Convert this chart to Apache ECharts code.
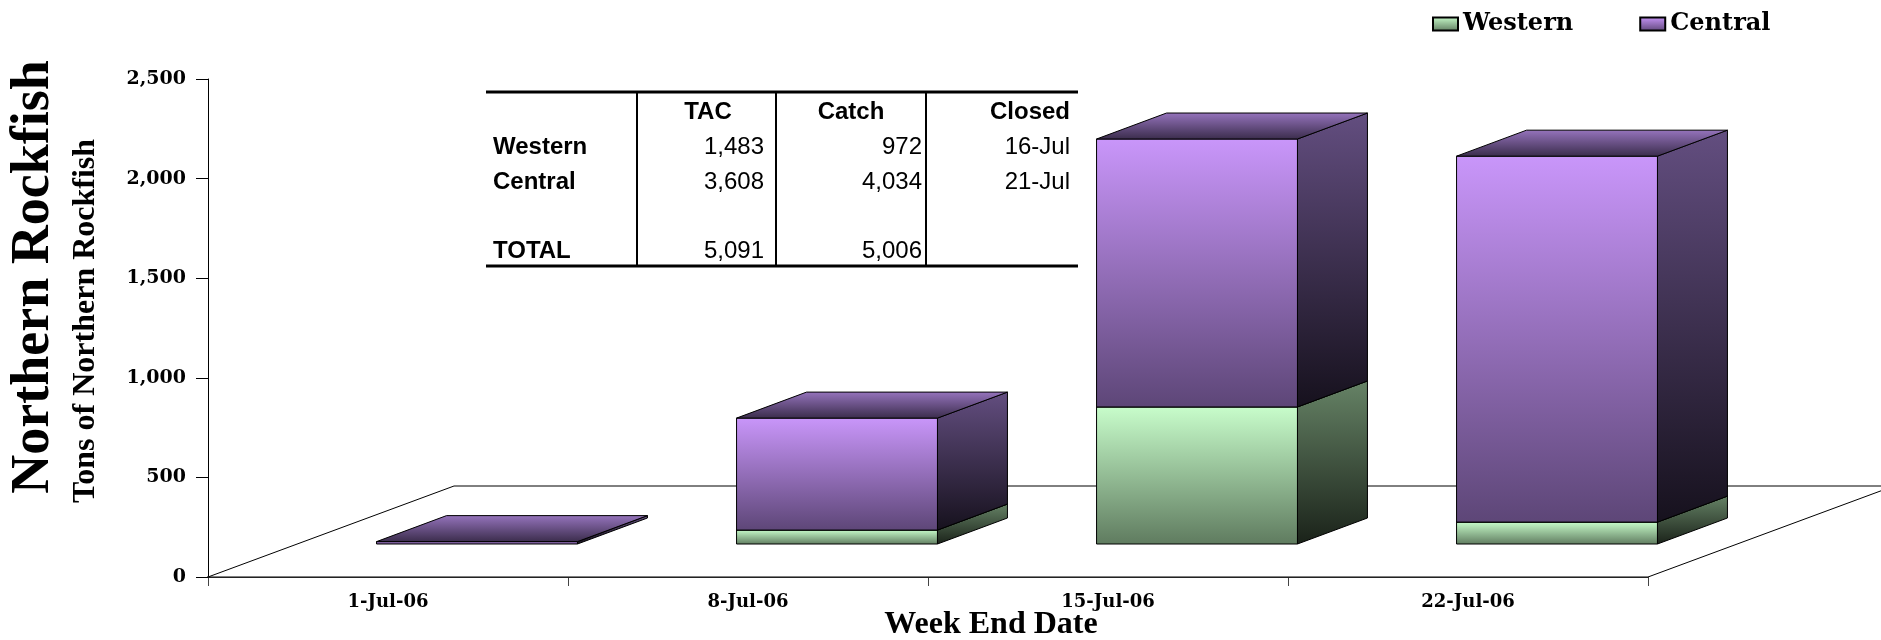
<!DOCTYPE html>
<html>
<head>
<meta charset="utf-8">
<script src="https://cdn.jsdelivr.net/npm/echarts@6/dist/echarts.min.js"></script>
<style>
html, body { margin: 0; padding: 0; background: #fff; }
#main { width: 1881px; height: 640px; }
</style>
</head>
<body>
<div id="main"></div>
<script>
// chart data
var weeks = ['1-Jul-06', '8-Jul-06', '15-Jul-06', '22-Jul-06'];
var western = [0, 70, 688, 110];
var central = [12, 562, 1345, 1837];
var yTicks = [0, 500, 1000, 1500, 2000, 2500];

// summary table
var tableHead = ['TAC', 'Catch', 'Closed'];
var rowNames = ['Western', 'Central', '', 'TOTAL'];
var tacCol = ['1,483', '3,608', '', '5,091'];
var catchCol = ['972', '4,034', '', '5,006'];
var closedCol = ['16-Jul', '21-Jul', '', ''];

var GAP_X = 89, GAP_Y = 33;   // bars sit a bit behind the front of the floor
var DEP_X = 70, DEP_Y = 26;   // bar depth
var FLOOR_X = 246, FLOOR_Y = 91;

function grad(c1, c2) {
  return new echarts.graphic.LinearGradient(0, 0, 0, 1, [
    { offset: 0, color: c1 }, { offset: 1, color: c2 }
  ]);
}

var greenFaces = {
  front: ['#c8fdcb', '#5f7b5f'],
  side: ['#668366', '#1a2219'],
  top: ['#a3cba3', '#47604a']
};
var purpleFaces = {
  front: ['#c996fa', '#5d4677'],
  side: ['#634e80', '#16111d'],
  top: ['#9674bd', '#3a2c4b']
};

function cube(faces) {
  return function (params, api) {
    var i = api.value(0), lo = api.value(1), hi = api.value(2);
    if (hi <= lo) return;
    var p0 = api.coord([i, lo]);
    var p1 = api.coord([i, hi]);
    var hw = api.size([1, 0])[0] * 0.279;
    var cx = p0[0] + GAP_X;
    var x0 = cx - hw, x1 = cx + hw;
    var yb = p0[1] - GAP_Y, yt = p1[1] - GAP_Y;
    var line = { stroke: '#000', lineWidth: 1 };
    return {
      type: 'group',
      children: [
        {
          type: 'polygon',
          shape: { points: [[x1, yt], [x1 + DEP_X, yt - DEP_Y], [x1 + DEP_X, yb - DEP_Y], [x1, yb]] },
          style: Object.assign({ fill: grad(faces.side[0], faces.side[1]) }, line)
        },
        {
          type: 'rect',
          shape: { x: x0, y: yt, width: x1 - x0, height: yb - yt },
          style: Object.assign({ fill: grad(faces.front[0], faces.front[1]) }, line)
        },
        {
          type: 'polygon',
          shape: { points: [[x0, yt], [x1, yt], [x1 + DEP_X, yt - DEP_Y], [x0 + DEP_X, yt - DEP_Y]] },
          style: Object.assign({ fill: grad(faces.top[0], faces.top[1]) }, line)
        }
      ]
    };
  };
}

var westernData = weeks.map(function (w, i) { return [i, 0, western[i]]; });
var centralData = weeks.map(function (w, i) { return [i, western[i], western[i] + central[i]]; });

// table graphics
var tblLeft = 486, tblRight = 1078, tblTop = 92, tblBottom = 266;
var colLines = [637, 776, 926];
var rowY = [147, 182, 217, 251];
var tableGraphics = [
  { type: 'line', shape: { x1: tblLeft, y1: tblTop, x2: tblRight, y2: tblTop }, style: { stroke: '#000', lineWidth: 3 } },
  { type: 'line', shape: { x1: tblLeft, y1: tblBottom, x2: tblRight, y2: tblBottom }, style: { stroke: '#000', lineWidth: 3 } }
];
colLines.forEach(function (x) {
  tableGraphics.push({ type: 'line', shape: { x1: x, y1: tblTop, x2: x, y2: tblBottom }, style: { stroke: '#000', lineWidth: 2 } });
});
var headPos = [[708, 'center'], [851, 'center'], [1070, 'right']];
tableHead.forEach(function (t, k) {
  tableGraphics.push({
    type: 'text', x: headPos[k][0], y: 112,
    style: { text: t, font: 'bold 24px "Liberation Sans"', fill: '#000', align: headPos[k][1], textAlign: headPos[k][1], verticalAlign: 'middle', textVerticalAlign: 'middle' }
  });
});
var valueCols = [[tacCol, 764], [catchCol, 922], [closedCol, 1070]];
rowNames.forEach(function (name, r) {
  tableGraphics.push({
    type: 'text', x: 493, y: rowY[r],
    style: { text: name, font: 'bold 24px "Liberation Sans"', fill: '#000', align: 'left', textAlign: 'left', verticalAlign: 'middle', textVerticalAlign: 'middle' }
  });
  valueCols.forEach(function (c) {
    tableGraphics.push({
      type: 'text', x: c[1], y: rowY[r],
      style: { text: c[0][r], font: '24px "Liberation Sans"', fill: '#000', align: 'right', textAlign: 'right', verticalAlign: 'middle', textVerticalAlign: 'middle' }
    });
  });
});

var titleGraphics = [
  {
    type: 'text', x: 34, y: 277, rotation: Math.PI / 2,
    style: { text: 'Northern Rockfish', font: 'bold 54px "Liberation Serif"', fill: '#000', align: 'center', textAlign: 'center', verticalAlign: 'middle', textVerticalAlign: 'middle' }
  },
  {
    type: 'text', x: 86, y: 321, rotation: Math.PI / 2,
    style: { text: 'Tons of Northern Rockfish', font: 'bold 32px "Liberation Serif"', fill: '#000', align: 'center', textAlign: 'center', verticalAlign: 'middle', textVerticalAlign: 'middle' }
  },
  {
    type: 'text', x: 991, y: 625,
    style: { text: 'Week End Date', font: 'bold 32px "Liberation Serif"', fill: '#000', align: 'center', textAlign: 'center', verticalAlign: 'middle', textVerticalAlign: 'middle' }
  }
];

var myChart = echarts.init(document.getElementById('main'));
myChart.setOption({
  animation: false,
  backgroundColor: '#fff',
  legend: {
    data: ['Western', 'Central'],
    left: 1427, top: 7,
    icon: 'rect',
    itemWidth: 25, itemHeight: 13,
    itemGap: 66,
    textStyle: { fontFamily: 'DejaVu Serif', fontWeight: 'bold', fontSize: 24, color: '#000' }
  },
  grid: { left: 208, right: 233, top: 79, bottom: 63, containLabel: false },
  xAxis: {
    type: 'category',
    data: weeks,
    axisLine: { lineStyle: { color: '#444', width: 2 } },
    axisTick: { show: true, length: 9, lineStyle: { color: '#444' } },
    axisLabel: { margin: 16, fontFamily: 'DejaVu Serif', fontWeight: 'bold', fontSize: 18, color: '#000' },
    splitLine: { show: false }
  },
  yAxis: {
    type: 'value',
    min: yTicks[0], max: yTicks[yTicks.length - 1], interval: 500,
    axisLine: { show: true, lineStyle: { color: '#000', width: 1 } },
    axisTick: { show: true, length: 12, lineStyle: { color: '#000' } },
    axisLabel: {
      margin: 22, fontFamily: 'DejaVu Serif', fontWeight: 'bold', fontSize: 19, color: '#000',
      formatter: function (v) { return v.toLocaleString('en-US'); }
    },
    splitLine: { show: false }
  },
  graphic: titleGraphics.concat(tableGraphics),
  series: [
    {
      name: 'floor',
      type: 'custom',
      data: [[0, 0]],
      z: 1,
      silent: true,
      renderItem: function (params, api) {
        var cs = params.coordSys;
        var yb = cs.y + cs.height;
        var xl = cs.x, xr = cs.x + cs.width;
        return {
          type: 'polygon',
          shape: { points: [[xl, yb], [xr, yb], [xr + FLOOR_X, yb - FLOOR_Y], [xl + FLOOR_X, yb - FLOOR_Y]] },
          style: { fill: '#fff', stroke: '#000', lineWidth: 1 }
        };
      }
    },
    {
      name: 'Western',
      type: 'custom',
      data: westernData,
      encode: { x: 0, y: [1, 2] },
      z: 3,
      itemStyle: { color: grad('#c8fdcb', '#5f7b5f'), borderColor: '#000', borderWidth: 1 },
      renderItem: cube(greenFaces)
    },
    {
      name: 'Central',
      type: 'custom',
      data: centralData,
      encode: { x: 0, y: [1, 2] },
      z: 4,
      itemStyle: { color: grad('#c996fa', '#5d4677'), borderColor: '#000', borderWidth: 1 },
      renderItem: cube(purpleFaces)
    }
  ]
});
</script>
</body>
</html>
